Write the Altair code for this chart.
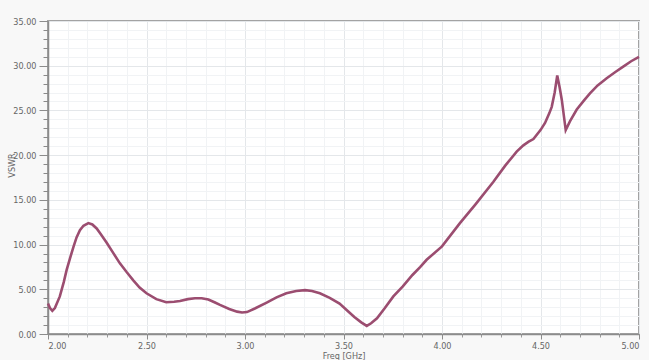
import altair as alt
import pandas as pd

# VSWR sweep, frequency in GHz
freq = [2.000, 2.010, 2.022, 2.035, 2.060, 2.080, 2.095, 2.115, 2.130, 2.145,
        2.162, 2.180, 2.205, 2.225, 2.247, 2.270, 2.298, 2.330, 2.365, 2.400,
        2.433, 2.465, 2.500, 2.550, 2.600, 2.640, 2.670, 2.710, 2.746, 2.780,
        2.814, 2.845, 2.873, 2.920, 2.960, 2.985, 3.010, 3.050, 3.110, 3.160,
        3.210, 3.260, 3.305, 3.340, 3.380, 3.430, 3.480, 3.520, 3.555, 3.590,
        3.618, 3.640, 3.670, 3.710, 3.753, 3.800, 3.850, 3.890, 3.922, 4.000,
        4.091, 4.170, 4.260, 4.320, 4.379, 4.413, 4.440, 4.464, 4.500, 4.523,
        4.545, 4.557, 4.572, 4.585, 4.597, 4.608, 4.628, 4.650, 4.684, 4.720,
        4.751, 4.790, 4.836, 4.880, 4.920, 4.960, 5.000]
vswr = [3.4, 2.9, 2.6, 2.9, 4.2, 5.8, 7.2, 8.7, 9.8, 10.8,
        11.6, 12.1, 12.4, 12.25, 11.8, 11.1, 10.2, 9.1, 7.9, 6.9,
        6.0, 5.2, 4.55, 3.9, 3.55, 3.6, 3.7, 3.9, 4.0, 4.0,
        3.85, 3.55, 3.25, 2.8, 2.5, 2.4, 2.45, 2.85, 3.5, 4.1,
        4.55, 4.8, 4.9, 4.8, 4.55, 4.05, 3.4, 2.6, 1.9, 1.3,
        0.9, 1.2, 1.75, 2.9, 4.2, 5.3, 6.6, 7.5, 8.3, 9.8,
        12.4, 14.5, 17.0, 18.8, 20.4, 21.1, 21.5, 21.8, 22.8, 23.6,
        24.7, 25.4, 27.0, 28.9, 27.6, 26.2, 22.8, 23.8, 25.1, 26.1,
        26.9, 27.8, 28.6, 29.3, 29.9, 30.5, 31.0]

x_major = [2.0, 2.5, 3.0, 3.5, 4.0, 4.5, 5.0]
x_minor = [round(2.0 + 0.1 * i, 1) for i in range(31)]
y_major = [0, 5, 10, 15, 20, 25, 30, 35]
y_minor = list(range(0, 36))

df = pd.DataFrame({"freq": freq, "vswr": vswr})

FONT = "Liberation Sans Narrow, DejaVu Sans Condensed, Arial Narrow, sans-serif"
x_scale = alt.Scale(domain=[2, 5], nice=False, zero=False)
y_scale = alt.Scale(domain=[0, 35], nice=False)

base = alt.Chart(df)

# faint minor grid with short minor ticks
minor = base.mark_line(opacity=0).encode(
    x=alt.X("freq:Q", scale=x_scale,
            axis=alt.Axis(orient="bottom", values=x_minor, labels=False, title=None,
                          domain=False, grid=True, gridColor="#f1f3f5", gridWidth=1,
                          tickSize=3, tickColor="#9a9a9a")),
    y=alt.Y("vswr:Q", scale=y_scale,
            axis=alt.Axis(orient="left", values=y_minor, labels=False, title=None,
                          domain=False, grid=True, gridColor="#f1f3f5", gridWidth=1,
                          tickSize=5, tickColor="#8a8a8a")),
)

# major grid, ticks, labels and titles
major = base.mark_line(opacity=0).encode(
    x=alt.X("freq:Q", scale=x_scale,
            axis=alt.Axis(orient="bottom", values=x_major, format=".2f",
                          title="Freq [GHz]", titleFont=FONT, titleFontSize=9,
                          titleFontWeight="normal", titleColor="#666666", titlePadding=1,
                          labelFont=FONT, labelFontSize=9, labelColor="#666666",
                          labelPadding=2, domain=True, domainColor="#8c8c8c",
                          domainWidth=1.5, grid=True, gridColor="#e4e7ea",
                          tickSize=5, tickColor="#8c8c8c")),
    y=alt.Y("vswr:Q", scale=y_scale,
            axis=alt.Axis(orient="left", values=y_major, format=".2f",
                          title="VSWR", titleFont=FONT, titleFontSize=9,
                          titleFontWeight="normal", titleColor="#666666",
                          titleX=-32, titleY=144,
                          labelFont=FONT, labelFontSize=9, labelColor="#666666",
                          labelPadding=3, domain=True, domainColor="#8c8c8c",
                          domainWidth=1.5, grid=True, gridColor="#e4e7ea",
                          tickSize=9, tickColor="#8c8c8c")),
)

curve = base.mark_line(color="#9b4d70", strokeWidth=2.6, interpolate="linear").encode(
    x=alt.X("freq:Q", scale=x_scale, axis=None),
    y=alt.Y("vswr:Q", scale=y_scale, axis=None),
)

chart = (
    alt.layer(minor, major, curve)
    .resolve_axis(x="independent", y="independent")
    .properties(
        width=591,
        height=313,
        autosize=alt.AutoSizeParams(type="none"),
        padding={"left": 48, "top": 21, "right": 10, "bottom": 26},
        background="#f8f8f8",
    )
    .configure_view(fill="#ffffff", stroke="#a3a3a3", strokeWidth=2)
)

chart.save("out.html", embed_options={"renderer": "svg", "actions": False})
